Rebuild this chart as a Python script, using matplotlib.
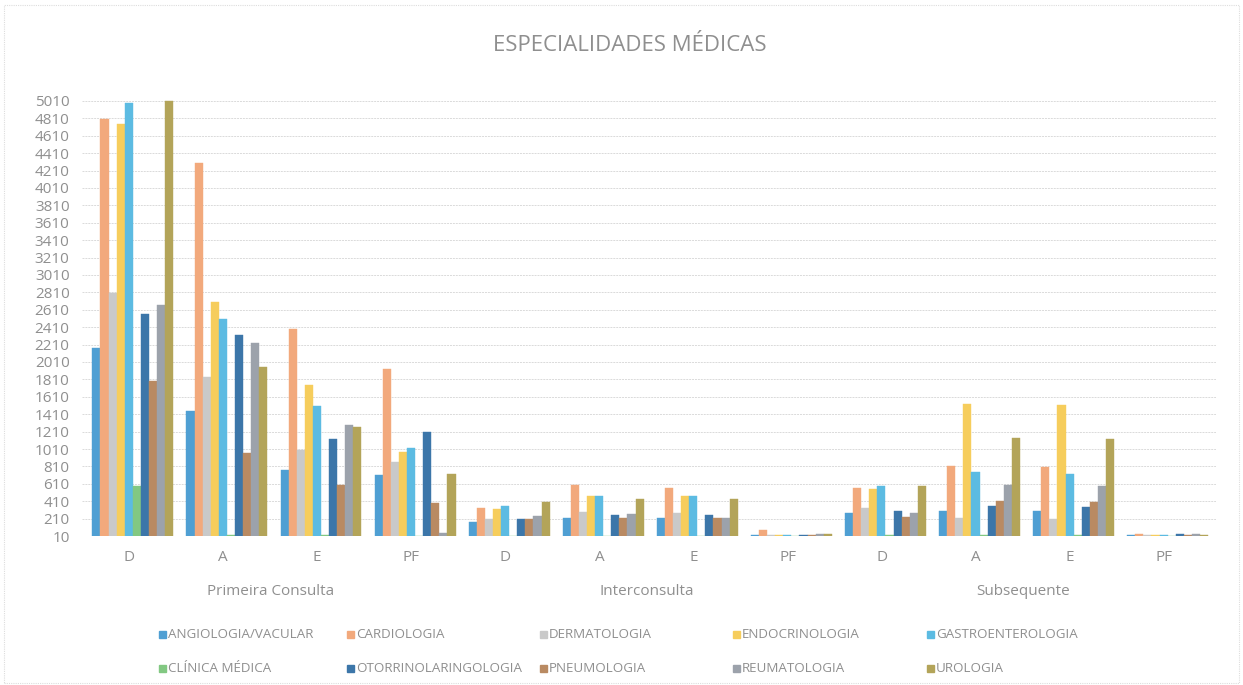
import matplotlib
matplotlib.use("Agg")
import matplotlib.pyplot as plt
from matplotlib import font_manager
import numpy as np

available = {f.name for f in font_manager.fontManager.ttflist}
FONT = "Liberation Sans Narrow" if "Liberation Sans Narrow" in available else "Open Sans"
plt.rcParams['font.family'] = [FONT, 'DejaVu Sans']

categories = ["D", "A", "E", "PF", "D", "A", "E", "PF", "D", "A", "E", "PF"]
groups = ["Primeira Consulta", "Interconsulta", "Subsequente"]

specialties = ["ANGIOLOGIA/VACULAR", "CARDIOLOGIA", "DERMATOLOGIA", "ENDOCRINOLOGIA",
               "GASTROENTEROLOGIA", "CLÍNICA MÉDICA", "OTORRINOLARINGOLOGIA",
               "PNEUMOLOGIA", "REUMATOLOGIA", "UROLOGIA"]

angiologia = [2170, 1450, 770, 710, 170, 220, 220, 20, 270, 300, 300, 20]
cardiologia = [4800, 4300, 2390, 1930, 330, 600, 560, 80, 560, 820, 800, 30]
dermatologia = [2800, 1840, 1000, 860, 210, 290, 270, 20, 330, 220, 200, 20]
endocrinologia = [4750, 2700, 1750, 980, 320, 470, 470, 20, 550, 1530, 1520, 20]
gastroenterologia = [4990, 2500, 1500, 1020, 350, 470, 465, 20, 580, 740, 720, 20]
clinica_medica = [590, 20, 20, 10, 10, 10, 10, 10, 20, 20, 20, 10]
otorrinolaringologia = [2560, 2320, 1130, 1200, 200, 250, 250, 20, 300, 350, 340, 30]
pneumologia = [1790, 960, 600, 390, 200, 220, 220, 20, 230, 410, 400, 20]
reumatologia = [2670, 2230, 1290, 40, 240, 260, 220, 30, 270, 600, 585, 30]
urologia = [5010, 1950, 1260, 720, 400, 440, 435, 30, 580, 1140, 1120, 20]

series = [angiologia, cardiologia, dermatologia, endocrinologia, gastroenterologia,
          clinica_medica, otorrinolaringologia, pneumologia, reumatologia, urologia]
colors = ["#4f9fd3", "#f2a97c", "#c9c9c9", "#f6cd5c", "#5cbbe2",
          "#82c882", "#3c76a9", "#b98a62", "#9ca2ab", "#b3a459"]

yticks = list(range(10, 5011, 200))

W, H = 1243, 685
fig = plt.figure(figsize=(W / 100, H / 100), dpi=100)
ax = fig.add_axes([0.066, 0.2175, 0.912, 0.644])

n = len(series)
bw = 0.086
x = np.arange(len(categories))
for i, (vals, c, name) in enumerate(zip(series, colors, specialties)):
    offs = (i - (n - 1) / 2) * bw + 0.04
    ax.bar(x + offs, vals, width=bw, color=c, label=name, edgecolor=c, linewidth=0.3, zorder=3)

TXT = "#8f8f8f"
ax.set_ylim(10, 5080)
ax.set_xlim(-0.5, 11.55)
ax.set_yticks(yticks)
ax.set_yticklabels([str(v) for v in yticks], color=TXT, fontsize=11)
ax.set_xticks(x)
ax.set_xticklabels(categories, color=TXT, fontsize=11)
ax.tick_params(axis='y', length=0, pad=9)
ax.tick_params(axis='x', length=0, pad=10)
ax.grid(axis='y', color="#dadada", linewidth=0.7, linestyle=(0, (2, 1)), zorder=0)
for s in ax.spines.values():
    s.set_visible(False)

for gi, g in enumerate(groups):
    ax.text(gi * 4 + 1.5, -0.125, g, transform=ax.get_xaxis_transform(),
            ha='center', va='center', color=TXT, fontsize=11)

fig.text(0.507, 0.934, "ESPECIALIDADES MÉDICAS", ha='center', va='center',
         color=TXT, fontsize=16)

# Legend laid out like the original (row-wise, fixed column slots)
leg_x = [162, 350, 543, 736, 930, 162, 350, 543, 736, 930]
leg_y = [634, 634, 634, 634, 634, 668, 668, 668, 668, 668]
sq = 7
for name, c, lx, ly in zip(specialties, colors, leg_x, leg_y):
    fig.patches.append(plt.Rectangle(((lx - sq / 2) / W, 1 - (ly + sq / 2) / H), sq / W, sq / H,
                                     transform=fig.transFigure, color=c))
    fig.text((lx + 6) / W, 1 - ly / H, name, ha='left', va='center', color=TXT, fontsize=9.6)

fig.patches.append(plt.Rectangle((0.003, 0.003), 0.994, 0.99, transform=fig.transFigure,
                                 fill=False, edgecolor="#dddddd", linewidth=0.8,
                                 linestyle=(0, (1, 1))))

fig.savefig("out.png", dpi=100)
